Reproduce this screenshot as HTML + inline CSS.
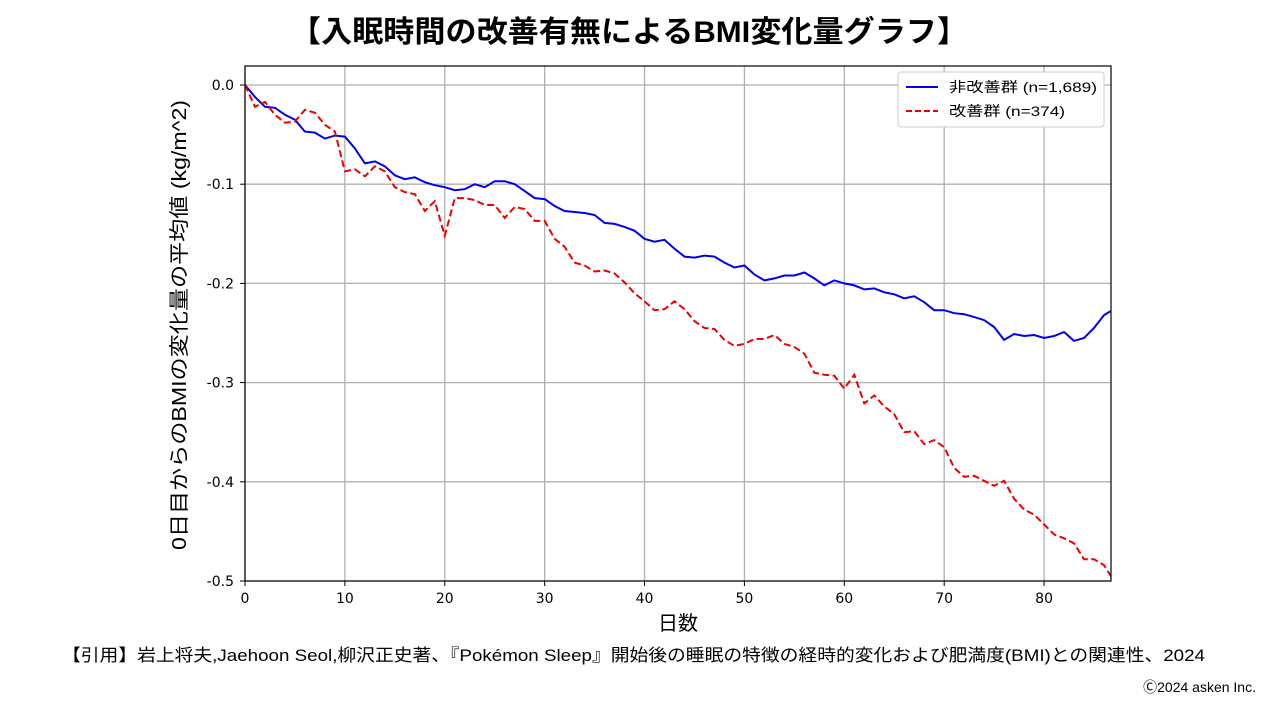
<!DOCTYPE html>
<html><head><meta charset="utf-8">
<style>
body{margin:0;width:1280px;height:720px;background:#fff;overflow:hidden;font-family:"Liberation Sans","Noto Sans CJK JP",sans-serif;}
</style></head>
<body>
<svg id="chart" width="1280" height="720" xmlns="http://www.w3.org/2000/svg">
<text x="290" y="42" textLength="678" lengthAdjust="spacingAndGlyphs" font-size="30" font-weight="bold" font-family="Liberation Sans, Noto Sans CJK JP, sans-serif">【入眠時間の改善有無によるBMI変化量グラフ】</text>
<g id="grid"></g>
<g id="series"></g>
<rect x="245" y="66" width="866" height="515" fill="none" stroke="#000" stroke-width="1.2"/>
<g id="axes" font-size="14" font-family="DejaVu Sans, sans-serif" fill="#000"></g>
<text x="678" y="630" text-anchor="middle" font-size="20" font-family="Noto Sans CJK JP, sans-serif">日数</text>
<text transform="translate(186,550) rotate(-90)" textLength="450" lengthAdjust="spacingAndGlyphs" font-size="20" font-family="Liberation Sans, Noto Sans CJK JP, sans-serif">0日目からのBMIの変化量の平均値 (kg/m^2)</text>
<g>
<rect x="898" y="72" width="206" height="55" rx="3" fill="#fff" stroke="#ccc"/>
<line x1="906" y1="87" x2="938" y2="87" stroke="#0000ee" stroke-width="2"/>
<text x="949" y="92" textLength="148" lengthAdjust="spacingAndGlyphs" font-size="14" font-family="Liberation Sans, Noto Sans CJK JP, sans-serif">非改善群 (n=1,689)</text>
<line x1="906" y1="111" x2="938" y2="111" stroke="#ee0000" stroke-width="2" stroke-dasharray="6,3"/>
<text x="949" y="116" textLength="116" lengthAdjust="spacingAndGlyphs" font-size="14" font-family="Liberation Sans, Noto Sans CJK JP, sans-serif">改善群 (n=374)</text>
</g>
<text x="62" y="661" textLength="1143" lengthAdjust="spacingAndGlyphs" font-size="17" font-family="Liberation Sans, Noto Sans CJK JP, sans-serif">【引用】岩上将夫,Jaehoon Seol,柳沢正史著、『Pokémon Sleep』開始後の睡眠の特徴の経時的変化および肥満度(BMI)との関連性、2024</text>
<text x="1256" y="692" text-anchor="end" font-size="14" font-family="Liberation Sans, Noto Sans CJK JP, sans-serif">Ⓒ2024 asken Inc.</text>
</svg>
<script>
const days = Array.from({length:88},(_,i)=>i);
const nonImproved = [0,-0.012,-0.022,-0.023,-0.03,-0.035,-0.047,-0.048,-0.054,-0.051,-0.052,-0.064,-0.079,-0.077,-0.082,-0.091,-0.095,-0.093,-0.098,-0.101,-0.103,-0.106,-0.105,-0.1,-0.103,-0.097,-0.097,-0.1,-0.107,-0.114,-0.115,-0.122,-0.127,-0.128,-0.129,-0.131,-0.139,-0.14,-0.143,-0.147,-0.155,-0.158,-0.156,-0.165,-0.173,-0.174,-0.172,-0.173,-0.179,-0.184,-0.182,-0.191,-0.197,-0.195,-0.192,-0.192,-0.189,-0.195,-0.202,-0.197,-0.2,-0.202,-0.206,-0.205,-0.209,-0.211,-0.215,-0.213,-0.219,-0.227,-0.227,-0.23,-0.231,-0.234,-0.237,-0.244,-0.257,-0.251,-0.253,-0.252,-0.255,-0.253,-0.249,-0.258,-0.255,-0.245,-0.232,-0.226];
const improved = [0,-0.022,-0.017,-0.03,-0.038,-0.037,-0.025,-0.028,-0.04,-0.047,-0.087,-0.085,-0.092,-0.082,-0.087,-0.103,-0.108,-0.11,-0.127,-0.117,-0.152,-0.114,-0.114,-0.116,-0.121,-0.121,-0.134,-0.123,-0.125,-0.137,-0.137,-0.155,-0.163,-0.179,-0.182,-0.188,-0.187,-0.19,-0.199,-0.21,-0.218,-0.227,-0.226,-0.218,-0.226,-0.238,-0.245,-0.246,-0.257,-0.263,-0.261,-0.256,-0.256,-0.252,-0.261,-0.264,-0.271,-0.29,-0.292,-0.293,-0.306,-0.292,-0.321,-0.313,-0.324,-0.332,-0.35,-0.349,-0.362,-0.358,-0.365,-0.386,-0.395,-0.394,-0.399,-0.404,-0.399,-0.417,-0.428,-0.433,-0.443,-0.453,-0.457,-0.462,-0.478,-0.478,-0.484,-0.5];
const xTicks = [0,10,20,30,40,50,60,70,80];
const yTicks = [0,-0.1,-0.2,-0.3,-0.4,-0.5];
const yTickLabels = ["0.0","-0.1","-0.2","-0.3","-0.4","-0.5"];

const NS="http://www.w3.org/2000/svg";
const X0=245,X1=1111,XMAX=86.7,Y0=85,YS=992;
const xs=d=>X0+d*(X1-X0)/XMAX;
const ys=v=>Y0-v*YS;
const grid=document.getElementById('grid'),axes=document.getElementById('axes'),ser=document.getElementById('series');
function mk(tag,attrs,parent){const e=document.createElementNS(NS,tag);for(const k in attrs)e.setAttribute(k,attrs[k]);parent.appendChild(e);return e;}
xTicks.forEach(t=>{
  const l=mk('line',{x1:xs(t),x2:xs(t),y1:66,y2:581,stroke:'#b0b0b0','stroke-width':1.3},grid);
  
  
  mk('line',{x1:xs(t),x2:xs(t),y1:581,y2:586,stroke:'#000'},axes);
  const tx=mk('text',{x:xs(t),y:603,'text-anchor':'middle'},axes);tx.textContent=t;
  
  
});
yTicks.forEach((t,i)=>{
  const l=mk('line',{x1:245,x2:1111,y1:ys(t),y2:ys(t),stroke:'#b0b0b0','stroke-width':1.3},grid);
  
  
  mk('line',{x1:240,x2:245,y1:ys(t),y2:ys(t),stroke:'#000'},axes);
  const tx=mk('text',{x:234,y:ys(t)+5,'text-anchor':'end'},axes);tx.textContent=yTickLabels[i];
  
  
});
function pts(arr){return arr.map((v,i)=>xs(days[i]).toFixed(1)+','+ys(v).toFixed(1)).join(' ');}
const cp=mk('clipPath',{id:'clip'},document.getElementById('chart'));mk('rect',{x:245,y:66,width:866,height:516},cp);
const b=mk('polyline',{points:pts(nonImproved),fill:'none',stroke:'#0000ee','stroke-width':2,'clip-path':'url(#clip)'},ser);


const r=mk('polyline',{points:pts(improved),fill:'none',stroke:'#ee0000','stroke-width':2,'stroke-dasharray':'7,3.5','clip-path':'url(#clip)'},ser);


</script>
</body></html>
